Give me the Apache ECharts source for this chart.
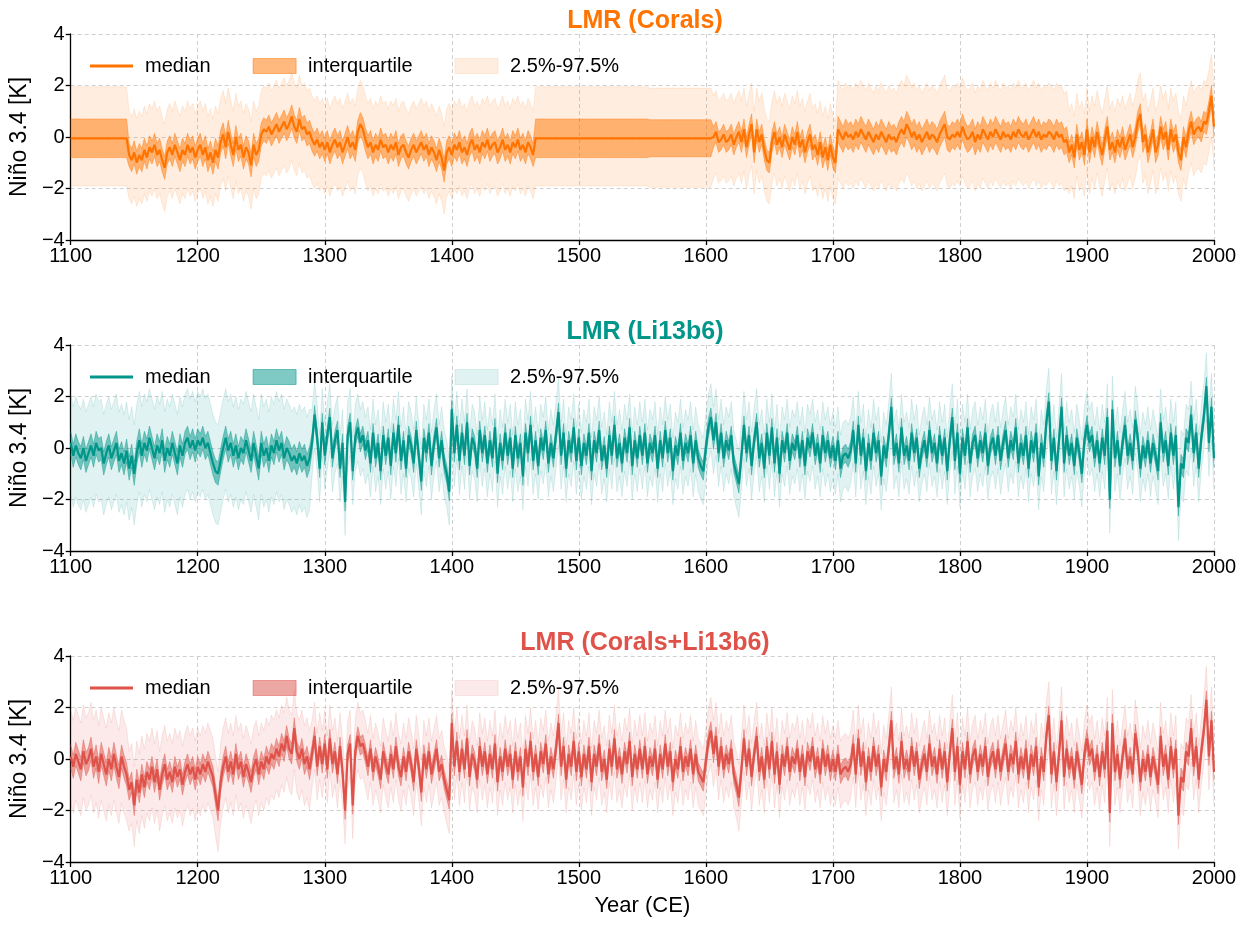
<!DOCTYPE html>
<html>
<head>
<meta charset="utf-8">
<script src="https://cdn.jsdelivr.net/npm/echarts@6/dist/echarts.min.js"></script>
<style>
  html, body { margin: 0; background: #fff; }
  #main { width: 1245px; height: 928px; }
</style>
</head>
<body>
<div id="main"></div>
<script>
// x categories: 1100..2000 every 2 years
var startYear = 1100
var endYear = 2000
var yearStep = 2
var yTicks = [-4, -2, 0, 2, 4]

// LMR (Corals) median, 2-yr steps, one row = 50 years
var coralsMedian = [
  -0.05,-0.05,-0.05,-0.05,-0.05,-0.05,-0.05,-0.05,-0.05,-0.05,-0.05,-0.05,-0.05,-0.05,-0.05,-0.05,-0.05,-0.05,-0.05,-0.05,-0.05,-0.05,-0.05,-0.7,-0.9,
  -0.6,-1.0,-0.7,-0.9,-0.5,-0.8,-0.4,-0.6,-0.3,-0.7,-0.5,-0.9,-1.2,-0.6,-0.4,-0.7,-0.3,-0.6,-0.9,-0.5,-0.7,-0.3,-0.6,-0.4,-0.8,
  -0.5,-0.3,-0.7,-0.4,-0.9,-0.6,-1.0,-0.5,-0.8,-0.2,0.1,-0.4,0.2,-0.3,-0.7,0.0,-0.5,-0.3,-0.8,-0.4,-0.6,-1.1,-0.3,-0.7,-0.5,
  0.1,0.3,0.2,0.4,0.1,0.3,0.5,0.2,0.4,0.6,0.3,0.5,0.8,0.4,0.2,0.7,0.3,0.4,0.1,0.2,-0.1,-0.3,-0.1,-0.4,-0.2,
  -0.5,-0.2,-0.6,-0.3,-0.1,-0.4,-0.2,-0.6,-0.3,0.0,-0.4,-0.2,-0.5,0.2,0.5,0.3,-0.1,-0.4,-0.2,-0.6,-0.3,-0.5,-0.1,-0.4,-0.3,
  -0.6,-0.3,-0.5,-0.2,-0.7,-0.4,-0.3,-0.6,-0.8,-0.5,-0.3,-0.6,-0.4,-0.2,-0.5,-0.3,-0.7,-0.4,-0.6,-0.9,-0.5,-0.8,-1.3,-0.6,-0.4,
  -0.7,-0.3,-0.5,-0.2,-0.6,-0.4,-0.7,-0.3,-0.1,-0.5,-0.3,-0.6,-0.2,-0.4,-0.1,-0.5,-0.3,-0.2,-0.6,-0.4,-0.1,-0.5,-0.3,-0.6,-0.2,
  -0.4,-0.1,-0.5,-0.3,-0.6,-0.2,-0.4,-0.7,-0.05,-0.05,-0.05,-0.05,-0.05,-0.05,-0.05,-0.05,-0.05,-0.05,-0.05,-0.05,-0.05,-0.05,-0.05,-0.05,-0.05,
  -0.05,-0.05,-0.05,-0.05,-0.05,-0.05,-0.05,-0.05,-0.05,-0.05,-0.05,-0.05,-0.05,-0.05,-0.05,-0.05,-0.05,-0.05,-0.05,-0.05,-0.05,-0.05,-0.05,-0.05,-0.05,
  -0.05,-0.05,-0.05,-0.05,-0.05,-0.05,-0.05,-0.05,-0.05,-0.05,-0.05,-0.05,-0.05,-0.05,-0.05,-0.05,-0.05,-0.05,-0.05,-0.05,-0.05,-0.05,-0.05,-0.05,-0.05,
  -0.05,-0.05,-0.05,0.0,0.2,-0.2,-0.1,0.1,-0.2,-0.1,0.1,-0.3,0.0,0.2,-0.2,0.3,-0.4,0.1,0.5,-0.6,0.3,-0.2,0.1,-0.5,-0.9,
  -1.0,-0.2,0.2,-0.3,0.0,-0.4,0.1,-0.2,-0.5,0.0,-0.3,0.2,-0.4,-0.1,-0.6,-0.2,0.1,-0.5,-0.3,-0.7,-0.2,-0.8,-0.4,-0.9,-0.3,
  -0.8,-1.0,0.3,0.1,-0.1,0.2,0.0,0.1,-0.1,0.2,0.0,0.3,0.1,-0.1,0.2,0.0,-0.2,0.1,-0.1,0.2,0.0,-0.2,0.1,-0.1,0.0,
  -0.2,0.1,0.3,0.1,0.5,0.3,0.0,0.2,-0.1,0.1,-0.2,0.0,0.2,-0.1,0.1,0.0,-0.2,0.1,0.3,0.5,0.0,-0.1,0.1,0.0,0.2,
  0.0,0.4,0.1,-0.1,0.0,0.2,-0.2,0.1,-0.1,0.3,0.1,-0.1,0.2,0.0,0.3,0.1,-0.1,0.2,0.0,0.1,-0.1,0.2,0.0,0.3,0.1,
  0.0,0.2,-0.1,0.1,0.3,0.0,0.2,-0.1,0.1,0.0,0.2,0.1,-0.1,0.2,0.0,0.1,-0.2,-0.1,-0.6,-0.3,-0.8,0.1,-0.5,-0.2,-0.7,
  0.3,-0.6,0.0,-0.4,0.2,-0.3,-0.7,-0.1,0.4,-0.5,-0.2,-0.6,-0.1,-0.4,0.0,-0.5,-0.2,0.1,-0.4,0.0,0.6,0.9,-0.2,0.1,-0.6,
  -0.2,0.3,-0.6,-0.3,0.4,-0.1,0.2,-0.5,0.3,-0.2,0.1,-0.6,-0.9,0.0,-0.4,0.2,0.6,0.1,0.3,0.4,0.2,0.6,0.5,1.0,1.6,
  0.4
]
// spread around the median per segment (segment start years)
var coralsSegStart = [1100, 1146, 1466, 1556, 1606, 1704, 1886]
var coralsIqrHalf = [0.75, 0.45, 0.75, 0.72, 0.4, 0.5, 0.4]
var coralsCiLow = [1.85, 1.7, 1.85, 1.9, 1.6, 1.9, 1.6]
var coralsCiHigh = [2.0, 1.7, 2.0, 1.95, 1.6, 1.9, 1.6]

// LMR (Li13b6) median
var li13Median = [
  0.2,-0.3,0.1,-0.2,-0.4,0.0,-0.5,-0.2,0.1,-0.3,0.2,-0.1,0.0,-0.6,-0.2,0.1,-0.4,-0.1,0.2,-0.5,-0.2,-0.6,-0.1,-0.8,-0.3,
  -1.0,-0.2,0.3,-0.3,0.2,-0.1,0.4,0.0,-0.4,0.1,-0.2,0.3,-0.5,0.0,-0.3,0.2,-0.2,-0.6,0.1,-0.3,0.2,0.4,0.0,0.3,-0.1,
  0.3,0.1,0.4,0.0,0.2,-0.2,-0.6,-0.9,-1.0,-0.5,0.0,0.4,-0.1,0.2,-0.3,0.1,-0.4,0.0,-0.2,0.3,-0.1,-0.5,0.2,-0.3,-0.8,
  0.2,-0.3,0.0,-0.5,0.1,-0.2,0.3,-0.1,0.2,-0.4,0.0,-0.2,-0.5,-0.3,-0.6,-0.2,-0.5,-0.3,-0.7,-0.4,0.2,1.3,0.4,-0.8,1.0,
  -0.3,0.5,1.2,-0.4,0.3,0.7,-0.8,0.2,-2.1,0.5,1.0,-0.9,0.4,0.8,0.2,0.5,-0.1,0.3,-0.6,0.6,-0.4,0.2,-0.9,0.5,-0.3,
  0.4,-0.7,0.6,-0.2,0.9,-0.5,0.3,-0.8,0.5,0.1,-0.6,0.7,-0.3,-1.3,0.4,-0.2,0.6,-0.7,0.2,0.8,-0.4,0.3,-0.6,-1.0,-1.7,
  1.5,-0.2,0.9,-0.5,0.6,-0.3,1.0,-0.7,0.4,0.1,-0.8,0.7,-0.2,0.5,-0.6,0.3,-0.4,0.8,-1.0,0.2,-0.5,0.6,-0.3,0.4,-0.8,
  0.5,-0.4,0.2,-1.1,0.6,-0.2,0.9,-0.5,0.3,-0.7,0.4,-0.1,0.7,-0.6,0.2,-0.4,0.5,1.4,-0.3,0.6,-0.8,0.3,-0.2,0.8,-0.5,
  0.4,-0.7,0.2,-0.3,0.6,-0.9,0.3,-0.2,0.7,-0.5,0.1,-0.8,0.5,-0.3,0.9,-0.4,0.2,-0.6,0.4,-0.2,0.8,-0.7,0.3,-0.4,0.5,
  -0.3,0.6,-0.6,0.2,-0.2,0.5,-0.8,0.3,-0.4,0.7,-0.2,0.4,-0.9,0.1,-0.3,0.6,-0.5,0.2,-0.2,0.5,-0.6,0.3,-0.4,-0.7,-0.9,
  0.0,0.8,1.2,0.3,1.0,-0.2,0.6,-0.4,0.3,-0.1,0.5,-0.6,-1.0,-1.4,-0.3,0.9,-0.2,0.5,-0.7,0.3,1.0,-0.4,0.2,-0.8,0.6,
  -0.3,0.8,-0.6,0.4,-1.0,0.3,-0.2,0.6,-0.5,0.2,-0.1,0.5,-0.4,0.3,-0.7,0.4,0.0,0.6,-0.3,0.2,-0.6,0.5,-0.2,0.3,-0.4,
  0.1,-0.5,0.3,-0.8,-0.3,-0.2,-0.4,-0.1,0.7,-0.6,0.9,-0.3,0.4,-0.9,0.2,-0.5,0.6,-0.2,0.3,-1.1,0.1,-0.4,0.5,1.6,-0.3,
  0.2,-0.6,0.8,-0.3,0.1,-0.5,0.6,-0.2,0.4,-0.8,-0.1,0.3,-0.4,0.7,-0.2,0.2,-0.6,0.5,-0.3,0.4,-0.9,0.3,1.2,-0.5,0.6,
  -1.0,0.4,-0.3,0.8,-0.6,0.2,0.5,-0.4,0.3,-0.2,0.6,-0.7,0.1,0.4,-0.3,0.5,-0.5,0.2,0.7,-0.4,0.3,-0.1,0.8,-0.6,0.2,
  -0.3,0.5,-0.8,0.3,-0.2,0.6,-1.1,0.2,-0.4,1.0,1.8,-0.5,0.4,-0.9,0.3,1.6,-0.6,0.5,-0.3,0.2,-0.7,0.4,-0.2,-1.0,0.3,
  0.9,0.2,0.5,-0.4,0.3,-0.6,0.4,-0.3,1.2,-2.0,1.5,-0.4,0.3,-0.7,0.2,0.9,-0.3,0.2,-0.5,1.1,0.4,-0.8,0.1,-0.4,0.3,
  -0.6,0.2,-0.3,-0.9,1.0,-0.2,0.3,-0.7,0.6,-0.3,0.5,-2.3,-0.6,-0.8,0.4,0.2,1.3,-0.2,0.6,-0.8,0.4,1.2,2.4,0.2,1.6,
  -0.4
]
var li13SegStart = [1100, 1290]
var li13IqrHalf = [0.45, 0.35]
var li13CiLow = [2.0, 1.3]
var li13CiHigh = [1.9, 1.3]

// LMR (Corals+Li13b6) median
var bothMedian = [
  0.1,-0.3,0.2,-0.1,-0.4,0.3,-0.2,0.0,0.4,-0.3,0.1,-0.5,0.2,-0.2,-0.6,0.0,-0.4,0.2,-0.3,-0.7,0.1,-0.3,-0.6,-1.2,-0.9,
  -1.8,-0.8,-1.3,-0.6,-1.1,-0.5,-0.8,-0.3,-0.9,-0.4,-1.2,-0.6,-0.2,-0.8,-0.5,-0.9,-0.3,-0.7,-0.4,-1.0,-0.5,-0.2,-0.6,-0.3,-0.8,
  -0.3,-0.6,-0.2,-0.5,-0.1,-0.4,-0.7,-1.4,-2.0,-0.9,-0.3,0.1,-0.5,-0.1,-0.6,0.2,-0.4,-0.1,-0.7,-0.2,-0.5,-0.9,-0.3,0.0,-0.6,
  -0.1,-0.4,0.1,-0.2,0.2,0.0,0.4,0.1,0.6,0.3,0.9,0.4,0.2,1.2,0.3,0.0,0.4,-0.2,0.1,-0.4,0.2,0.9,-0.3,0.5,-0.2,
  0.6,-0.4,0.8,-0.2,0.3,-0.6,0.5,-0.5,-2.0,0.2,0.6,-1.8,0.3,0.9,0.5,0.6,0.2,-0.3,0.4,-0.5,0.1,-0.3,-0.8,0.3,-0.2,
  -0.6,0.2,-0.4,0.5,-0.3,-0.7,0.1,-0.5,0.3,-0.2,-0.9,0.4,-0.3,-1.3,0.2,-0.4,0.3,-0.6,-0.1,0.4,-0.5,-0.2,-0.8,-1.2,-1.6,
  1.4,-0.3,0.7,-0.5,0.4,-0.4,0.8,-0.7,0.2,-0.1,-0.8,0.5,-0.3,0.3,-0.6,0.2,-0.4,0.6,-0.9,0.1,-0.5,0.4,-0.3,0.2,-0.8,
  0.3,-0.5,0.1,-1.1,0.4,-0.3,0.7,-0.5,0.2,-0.7,0.3,-0.2,0.6,-0.6,0.1,-0.4,0.4,1.4,-0.3,0.5,-0.8,0.2,-0.3,0.7,-0.5,
  0.3,-0.7,0.2,-0.4,0.5,-0.9,0.2,-0.3,0.6,-0.5,0.0,-0.8,0.4,-0.3,0.8,-0.4,0.1,-0.6,0.3,-0.2,0.7,-0.7,0.2,-0.4,0.4,
  -0.4,0.5,-0.6,0.1,-0.3,0.4,-0.8,0.2,-0.4,0.6,-0.3,0.3,-0.9,0.0,-0.4,0.5,-0.5,0.1,-0.3,0.4,-0.6,0.2,-0.5,-0.7,-0.9,
  -0.1,0.7,1.1,0.2,0.9,-0.3,0.5,-0.4,0.2,-0.2,0.4,-0.6,-1.0,-1.5,-0.4,0.8,-0.3,0.4,-0.7,0.2,0.9,-0.5,0.1,-0.8,0.5,
  -0.4,0.7,-0.6,0.3,-1.0,0.2,-0.3,0.5,-0.5,0.1,-0.2,0.4,-0.5,0.2,-0.7,0.3,-0.1,0.5,-0.4,0.1,-0.6,0.4,-0.3,0.2,-0.5,
  0.0,-0.5,0.2,-0.6,-0.4,-0.3,-0.5,-0.2,0.6,-0.6,0.8,-0.3,0.3,-0.9,0.1,-0.5,0.5,-0.3,0.2,-1.1,0.0,-0.5,0.4,1.5,-0.4,
  0.1,-0.6,0.7,-0.4,0.0,-0.5,0.5,-0.3,0.3,-0.8,-0.2,0.2,-0.5,0.6,-0.3,0.1,-0.6,0.4,-0.4,0.3,-0.9,0.2,1.2,-0.5,0.5,
  -1.0,0.3,-0.4,0.7,-0.6,0.1,0.4,-0.5,0.2,-0.3,0.5,-0.7,0.0,0.3,-0.4,0.4,-0.5,0.1,0.6,-0.5,0.2,-0.2,0.7,-0.6,0.1,
  -0.4,0.4,-0.8,0.2,-0.3,0.5,-1.1,0.1,-0.5,0.9,1.7,-0.6,0.3,-0.9,0.2,1.5,-0.7,0.4,-0.4,0.1,-0.8,0.3,-0.3,-1.0,0.2,
  0.8,0.1,0.4,-0.5,0.2,-0.7,0.3,-0.4,1.1,-2.1,1.4,-0.5,0.2,-0.8,0.1,0.8,-0.4,0.1,-0.6,1.0,0.3,-0.9,0.0,-0.5,0.2,
  -0.7,0.1,-0.4,-1.0,0.9,-0.3,0.2,-0.8,0.5,-0.4,0.4,-2.2,-0.7,-0.9,0.3,0.1,1.2,-0.3,0.5,-0.8,0.3,1.1,2.3,0.1,1.5,
  -0.5
]
var bothSegStart = [1100, 1146, 1290]
var bothIqrHalf = [0.45, 0.4, 0.35]
var bothCiLow = [1.8, 1.6, 1.3]
var bothCiHigh = [1.8, 1.5, 1.3]

var fontFamily = '"Liberation Sans", Arial, sans-serif'
var gridTops = [34, 345, 656]
var gridHeight = 206

var panels = [
  { title: 'LMR (Corals)', color: '#ff7400', rgb: '255,116,0', median: coralsMedian,
    starts: coralsSegStart, iqr: coralsIqrHalf, ciLow: coralsCiLow, ciHigh: coralsCiHigh },
  { title: 'LMR (Li13b6)', color: '#00968a', rgb: '0,150,138', median: li13Median,
    starts: li13SegStart, iqr: li13IqrHalf, ciLow: li13CiLow, ciHigh: li13CiHigh },
  { title: 'LMR (Corals+Li13b6)', color: '#de524a', rgb: '222,82,74', median: bothMedian,
    starts: bothSegStart, iqr: bothIqrHalf, ciLow: bothCiLow, ciHigh: bothCiHigh }
]

var years = []
for (var y = startYear; y <= endYear; y += yearStep) years.push(String(y))

function segValue(year, starts, vals) {
  var v = vals[0]
  for (var i = 0; i < starts.length; i++) {
    if (year >= starts[i]) v = vals[i]
  }
  return v
}

var myChart = echarts.init(document.getElementById('main'))

var grids = [], xAxes = [], yAxes = [], titles = [], legends = [], series = []

panels.forEach(function (p, k) {
  var ciBase = [], ciSpan = [], iqrBase = [], iqrSpan = []
  for (var i = 0; i < p.median.length; i++) {
    var yr = startYear + i * yearStep
    var m = p.median[i]
    var q = segValue(yr, p.starts, p.iqr)
    var lo = segValue(yr, p.starts, p.ciLow)
    var hi = segValue(yr, p.starts, p.ciHigh)
    ciBase.push(+(m - lo).toFixed(3))
    ciSpan.push(+(lo + hi).toFixed(3))
    iqrBase.push(+(m - q).toFixed(3))
    iqrSpan.push(+(2 * q).toFixed(3))
  }
  var ciFill = 'rgba(' + p.rgb + ',0.12)'
  var iqrFill = 'rgba(' + p.rgb + ',0.5)'

  grids.push({ left: 67, right: 31, top: gridTops[k], height: gridHeight })

  xAxes.push({
    type: 'category',
    gridIndex: k,
    data: years,
    boundaryGap: false,
    name: k === 2 ? 'Year (CE)' : '',
    nameLocation: 'middle',
    nameGap: 33,
    nameTextStyle: { fontSize: 22, color: '#000', fontFamily: fontFamily },
    axisLine: { onZero: false, lineStyle: { color: '#000', width: 1.3 } },
    axisTick: { interval: 49, length: 5, lineStyle: { color: '#000', width: 1.3 } },
    axisLabel: { interval: 49, fontSize: 20, color: '#000', margin: 6, fontFamily: fontFamily },
    splitLine: { show: true, interval: 49, lineStyle: { color: '#cfcfcf', type: [4, 3], width: 1 } }
  })

  yAxes.push({
    type: 'value',
    gridIndex: k,
    min: yTicks[0],
    max: yTicks[yTicks.length - 1],
    interval: 2,
    name: 'Niño 3.4 [K]',
    nameLocation: 'middle',
    nameGap: 38,
    nameTextStyle: { fontSize: 23, color: '#000', fontFamily: fontFamily },
    axisLine: { show: true, lineStyle: { color: '#000', width: 1.3 } },
    axisTick: { show: true, length: 5, lineStyle: { color: '#000', width: 1.3 } },
    axisLabel: {
      fontSize: 20, color: '#000', margin: 6, fontFamily: fontFamily,
      formatter: function (v) { return String(v).replace('-', '\u2212') }
    },
    splitLine: { show: true, lineStyle: { color: '#cfcfcf', type: [4, 3], width: 1 } }
  })

  titles.push({
    text: p.title,
    left: 640,
    textAlign: 'center',
    top: gridTops[k] - 30,
    textStyle: { color: p.color, fontSize: 25, fontWeight: 'bold', fontFamily: fontFamily }
  })

  legends.push({
    left: 85,
    top: gridTops[k] + 17,
    itemWidth: 43,
    itemHeight: 15,
    itemGap: 42,
    selectedMode: false,
    formatter: function (name) { return name.split('|')[0] },
    textStyle: { fontSize: 20, color: '#000', fontFamily: fontFamily, padding: [0, 0, 0, 7] },
    data: [
      { name: 'median|' + k, icon: 'path://M0,6 H43 V9 H0 Z M0,0 H0.01 V15 H0 Z',
        itemStyle: { color: p.color, borderWidth: 0 } },
      { name: 'interquartile|' + k, icon: 'rect',
        itemStyle: { color: iqrFill, borderColor: iqrFill, borderWidth: 1 } },
      { name: '2.5%-97.5%|' + k, icon: 'rect',
        itemStyle: { color: ciFill, borderColor: ciFill, borderWidth: 1 } }
    ]
  })

  var common = { type: 'line', xAxisIndex: k, yAxisIndex: k, symbol: 'none', silent: true, stackStrategy: 'all' }
  series.push(Object.assign({}, common, {
    name: 'ci-base|' + k, stack: 'ci' + k, data: ciBase,
    lineStyle: { color: ciFill, width: 1 }, itemStyle: { color: ciFill }
  }))
  series.push(Object.assign({}, common, {
    name: '2.5%-97.5%|' + k, stack: 'ci' + k, data: ciSpan,
    lineStyle: { color: ciFill, width: 1 }, itemStyle: { color: ciFill },
    areaStyle: { color: ciFill, opacity: 1 }
  }))
  series.push(Object.assign({}, common, {
    name: 'iqr-base|' + k, stack: 'iqr' + k, data: iqrBase,
    lineStyle: { color: iqrFill, width: 0.8 }, itemStyle: { color: iqrFill }
  }))
  series.push(Object.assign({}, common, {
    name: 'interquartile|' + k, stack: 'iqr' + k, data: iqrSpan,
    lineStyle: { color: iqrFill, width: 0.8 }, itemStyle: { color: iqrFill },
    areaStyle: { color: iqrFill, opacity: 1 }
  }))
  series.push({
    name: 'median|' + k, type: 'line', xAxisIndex: k, yAxisIndex: k,
    symbol: 'none', silent: true, data: p.median,
    lineStyle: { color: p.color, width: 2.2 }, itemStyle: { color: p.color }
  })
})

var option = {
  animation: false,
  backgroundColor: '#fff',
  title: titles,
  legend: legends,
  grid: grids,
  xAxis: xAxes,
  yAxis: yAxes,
  series: series
}
myChart.setOption(option)
</script>
</body>
</html>
